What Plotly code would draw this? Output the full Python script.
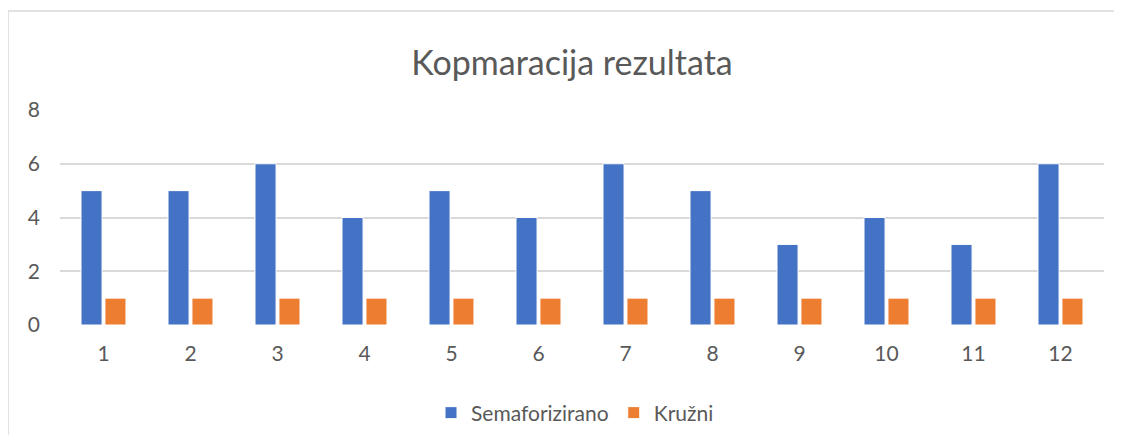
import plotly.graph_objects as go

categories = [str(i) for i in range(1, 13)]
semaforizirano = [5, 5, 6, 4, 5, 4, 6, 5, 3, 4, 3, 6]
kruzni = [1, 1, 1, 1, 1, 1, 1, 1, 1, 1, 1, 1]
y_ticks = [0, 2, 4, 6, 8]

OFF = 8  # page body offset
W, H = 1122 - 2 * OFF, 443 - 2 * OFF
# screen coordinates of plot area
SL, SR, ST, SB = 60, 1104, 110, 325
L, T = SL - OFF, ST - OFF
R = W - (SR - OFF)
B = H - (SB - OFF)
pw, ph = W - L - R, H - T - B

def px(sx):
    return (sx - SL) / pw

def py(sy):
    return (SB - sy) / ph

font = "Lato, 'Open Sans', sans-serif"
txt = "#595959"

fig = go.Figure()
fig.add_trace(go.Bar(x=categories, y=semaforizirano, name="Semaforizirano",
                     marker=dict(color="#4472C4", line=dict(color="white", width=1))))
fig.add_trace(go.Bar(x=categories, y=kruzni, name="Kružni",
                     marker=dict(color="#ED7D31", line=dict(color="white", width=1))))

fig.update_layout(
    width=W, height=H,
    margin=dict(l=L, r=R, t=T, b=B, autoexpand=False),
    paper_bgcolor="white", plot_bgcolor="white",
    barmode="group", bargap=0.45, bargroupgap=0.12,
    title=dict(text="Kopmaracija rezultata", x=(572 - OFF) / W, xanchor="center",
               y=1 - (63 - OFF) / H, yanchor="middle", yref="container",
               font=dict(family=font, size=34, color=txt)),
    font=dict(family=font, size=21, color=txt),
    xaxis=dict(showgrid=False, showline=False, ticks="", ticklabelstandoff=14,
               automargin=False, tickfont=dict(size=21, color=txt)),
    yaxis=dict(range=[0, 8], tickvals=y_ticks, showgrid=True, gridcolor="#D9D9D9",
               gridwidth=1.5, zeroline=False, showline=False, ticks="", automargin=False,
               ticklabelstandoff=19, tickfont=dict(size=21, color=txt)),
    legend=dict(orientation="h", x=px(575), xanchor="center", y=py(413), yanchor="middle",
                font=dict(size=21, color=txt), traceorder="normal", itemwidth=30),
    showlegend=True,
    shapes=[
        dict(type="line", xref="paper", yref="paper", x0=px(8), x1=px(1114), y0=py(11), y1=py(11),
             line=dict(color="#D9D9D9", width=1.5)),
        dict(type="line", xref="paper", yref="paper", x0=px(8), x1=px(8), y0=py(11), y1=py(435),
             line=dict(color="#D9D9D9", width=1.5)),
    ],
)

fig.write_html("out.html")
